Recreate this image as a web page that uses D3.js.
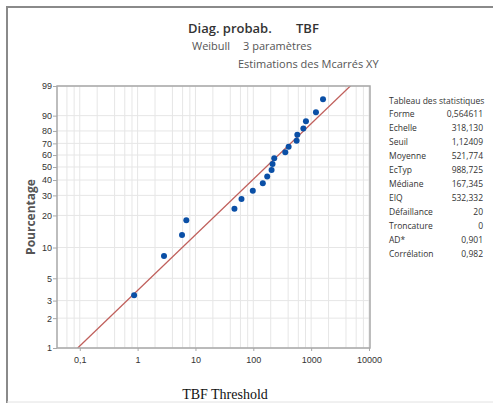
<!DOCTYPE html>
<html>
<head>
<meta charset="utf-8">
<script src="https://cdn.jsdelivr.net/npm/d3@7"></script>
<style>
  body { margin: 0; background: #fff; }
  svg { display: block; font-family: "Open Sans", "Noto Sans", sans-serif; }
</style>
</head>
<body>
<svg width="493" height="403"></svg>
<script>
// TBF - seuil (x) et pourcentage cumulé (y)
const tbf = [0.87, 2.86, 5.86, 6.95, 47.2, 62.5, 98, 146, 174, 207,
             215, 230, 357, 408, 561, 577, 733, 813, 1211, 1603];
const pct = [3.4, 8.3, 13.2, 18.1, 23.0, 27.9, 32.8, 37.7, 42.6, 47.5,
             52.4, 57.3, 62.3, 67.2, 72.1, 77.0, 81.9, 86.8, 91.7, 96.6];

const y_ticks = [1, 2, 3, 5, 10, 20, 30, 40, 50, 60, 70, 80, 90, 99];
const x_ticks = [0.1, 1, 10, 100, 1000, 10000];
const x_tick_labels = ["0,1", "1", "10", "100", "1000", "10000"];

const stat_names = ["Forme", "Echelle", "Seuil", "Moyenne", "EcTyp", "Médiane",
                    "EIQ", "Défaillance", "Troncature", "AD*", "Corrélation"];
const stat_values = ["0,564611", "318,130", "1,12409", "521,774", "988,725", "167,345",
                     "532,332", "20", "0", "0,901", "0,982"];

const shape = 0.564611;
const scale = 318.130;

const L = 57, R = 370, T = 86, B = 348;

function weib(p){
  return Math.log(-Math.log(1 - p / 100));
};

function init(){
  var svg = d3.select("svg");

  // cadre
  svg.append("path")
     .attr("d", "M7,403 V7 H493")
     .style("fill", "none")
     .style("stroke", "#8a8a8a")
     .style("stroke-width", 2);
  svg.append("line")
     .attr("x1", 7).attr("x2", 493).attr("y1", 402).attr("y2", 402)
     .style("stroke", "#e2e2e2");

  var x = d3.scaleLog().domain([Math.pow(10, -1 - 22.7 / 57.7), Math.pow(10, 4 + 1 / 57.7)]).range([L, R]);
  var y = d3.scaleLinear().domain([weib(1), weib(99)]).range([B, T]);

  // grille
  var grid_x = [];
  for (var e = -2; e <= 4; e++) {
    [1, 2, 4, 6, 8].forEach(function(m){
      var v = m * Math.pow(10, e);
      if (v >= x.domain()[0] && v <= x.domain()[1]) grid_x.push(v);
    });
  }
  svg.selectAll("line.gx").data(grid_x).enter().append("line")
     .attr("class", "gx")
     .attr("x1", d => x(d)).attr("x2", d => x(d))
     .attr("y1", T).attr("y2", B)
     .style("stroke", "#e6e6e6");
  svg.selectAll("line.gy").data(y_ticks).enter().append("line")
     .attr("class", "gy")
     .attr("x1", L).attr("x2", R)
     .attr("y1", d => y(weib(d))).attr("y2", d => y(weib(d)))
     .style("stroke", "#e6e6e6");

  // droite ajustée
  var clip = svg.append("clipPath").attr("id", "plotclip")
     .append("rect").attr("x", L).attr("y", T).attr("width", R - L).attr("height", B - T);
  var fit = [0.05, 20000].map(function(t){
    return [x(t), y(shape * (Math.log(t) - Math.log(scale)))];
  });
  var lo = Math.exp(weib(1) / shape + Math.log(scale));
  svg.append("path")
     .attr("clip-path", "url(#plotclip)")
     .attr("d", d3.line()([[x(lo), y(weib(1))], fit[1]]))
     .style("fill", "none")
     .style("stroke", "#c0605c")
     .style("stroke-width", 1.3);

  // points
  svg.selectAll("circle.pt").data(tbf).enter().append("circle")
     .attr("class", "pt")
     .attr("cx", d => x(d))
     .attr("cy", (d, i) => y(weib(pct[i])))
     .attr("r", 3)
     .style("fill", "#0a4fa6");

  // bordure du tracé
  svg.append("rect")
     .attr("x", L).attr("y", T).attr("width", R - L).attr("height", B - T)
     .style("fill", "none")
     .style("stroke", "#a8a8a8")
     .style("stroke-width", 1.5);

  // axes
  var yAxis = d3.axisLeft(y)
     .tickValues(y_ticks.map(weib))
     .tickFormat((d, i) => y_ticks[i])
     .tickSize(4).tickPadding(1);
  var ga = svg.append("g").attr("transform", "translate(" + L + ",0)").call(yAxis);
  var xAxis = d3.axisBottom(x)
     .tickValues(x_ticks)
     .tickFormat((d, i) => x_tick_labels[i])
     .tickSize(3).tickPadding(6);
  var gb = svg.append("g").attr("transform", "translate(0," + B + ")").call(xAxis);
  [ga, gb].forEach(function(g){
    g.select(".domain").remove();
    g.selectAll("line").style("stroke", "#a8a8a8");
    g.selectAll("text").style("font-size", "9px").style("fill", "#333");
  });

  // titres
  svg.append("text").attr("x", 188).attr("y", 33).text("Diag. probab.")
     .style("font-size", "13px").style("font-weight", "600").style("fill", "#333");
  svg.append("text").attr("x", 296).attr("y", 33).text("TBF")
     .style("font-size", "13px").style("font-weight", "600").style("fill", "#333");
  svg.append("text").attr("x", 192).attr("y", 50).text("Weibull")
     .style("font-size", "11px").style("fill", "#555");
  svg.append("text").attr("x", 243).attr("y", 50).text("3 paramètres")
     .style("font-size", "11px").style("fill", "#555");
  svg.append("text").attr("x", 238).attr("y", 68).text("Estimations des Mcarrés XY")
     .style("font-size", "11px").style("fill", "#555");

  svg.append("text")
     .attr("transform", "translate(35," + ((T + B) / 2) + ") rotate(-90)")
     .attr("text-anchor", "middle")
     .text("Pourcentage")
     .style("font-size", "12px").style("font-weight", "700").style("fill", "#555");

  svg.append("text").attr("x", 225).attr("y", 399)
     .attr("text-anchor", "middle")
     .text("TBF Threshold")
     .style("font-family", "'Liberation Serif', 'Times New Roman', serif")
     .style("font-size", "14px").style("fill", "#111");

  // tableau des statistiques
  svg.append("text").attr("x", 389).attr("y", 104).text("Tableau des statistiques")
     .style("font-size", "8.5px").style("fill", "#333");
  svg.selectAll("text.sn").data(stat_names).enter().append("text")
     .attr("class", "sn")
     .attr("x", 389).attr("y", (d, i) => 117 + i * 14)
     .text(d => d)
     .style("font-size", "8.5px").style("fill", "#333");
  svg.selectAll("text.sv").data(stat_values).enter().append("text")
     .attr("class", "sv")
     .attr("x", 483).attr("y", (d, i) => 117 + i * 14)
     .attr("text-anchor", "end")
     .text(d => d)
     .style("font-size", "8.5px").style("fill", "#333");
};

window.addEventListener("load", init);
</script>
</body>
</html>
